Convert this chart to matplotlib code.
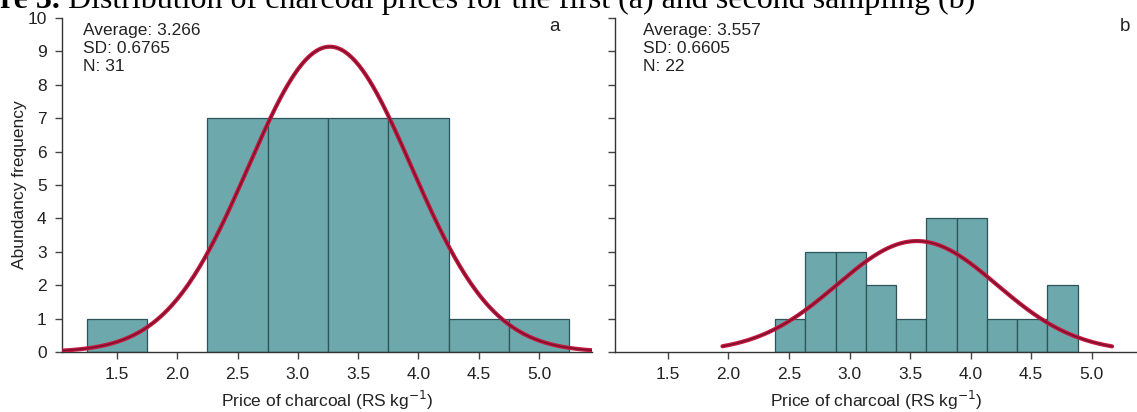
import numpy as np
import matplotlib
matplotlib.use('Agg')
import matplotlib.pyplot as plt

# ---- data ----
# panel a: first sampling
edges_a = [1.25, 1.75, 2.25, 2.75, 3.25, 3.75, 4.25, 4.75, 5.25]
counts_a = [1, 0, 7, 7, 7, 7, 1, 1]
mean_a, sd_a, n_a = 3.266, 0.6765, 31
curve_a = (1.05, 5.45)

# panel b: second sampling
edges_b = [2.385, 2.635, 2.885, 3.135, 3.385, 3.635, 3.885, 4.135, 4.385, 4.635, 4.885]
counts_b = [1, 3, 3, 2, 1, 4, 4, 1, 1, 2]
mean_b, sd_b, n_b = 3.557, 0.6605, 22
curve_b = (1.95, 5.17)

xticks = [1.5, 2.0, 2.5, 3.0, 3.5, 4.0, 4.5, 5.0]
yticks = list(range(0, 11))

plt.rcParams['font.family'] = ['Liberation Sans', 'DejaVu Sans']

BAR = '#6ca8ac'
EDGE = '#2c5459'
RED = '#c41a42'
DARKRED = '#7a0f28'
FS = 12.5

W, H = 1137, 412
fig = plt.figure(figsize=(W / 100, H / 100), dpi=100)


def px(x0, y0, x1, y1):
    # pixel box (top-left origin) -> figure fraction rect
    return [x0 / W, 1 - y1 / H, (x1 - x0) / W, (y1 - y0) / H]


def panel(ax, edges, counts, mean, sd, n, crange, xlim, letter, ylabels):
    edges = np.asarray(edges)
    counts = np.asarray(counts)
    widths = np.diff(edges)
    keep = counts > 0
    ax.bar(edges[:-1][keep], counts[keep], width=widths[keep], align='edge',
           color=BAR, edgecolor=EDGE, linewidth=0.9, zorder=2)

    # fitted normal, scaled to counts per bin
    bw = widths.mean()
    xs = np.linspace(crange[0], crange[1], 300)
    ys = n * bw / (sd * np.sqrt(2 * np.pi)) * np.exp(-0.5 * ((xs - mean) / sd) ** 2)
    ax.plot(xs, ys, color=RED, lw=3.0, solid_capstyle='round', zorder=3)
    ax.plot(xs, ys, color=DARKRED, lw=1.0, zorder=4)

    ax.set_xlim(*xlim)
    ax.set_ylim(0, 10)
    ax.set_xticks(xticks)
    ax.set_xticklabels(['%.1f' % v for v in xticks])
    ax.set_yticks(yticks)
    if not ylabels:
        ax.set_yticklabels([])
    for s in ('top', 'right'):
        ax.spines[s].set_visible(False)
    for s in ('left', 'bottom'):
        ax.spines[s].set_color('#333333')
        ax.spines[s].set_linewidth(1.0)
    ax.tick_params(direction='out', length=5, width=1, color='#444444',
                   labelsize=FS, labelcolor='#222222', pad=6)
    ax.set_xlabel('Price of charcoal (RS kg$^{-1}$)', fontsize=FS,
                  color='#222222', labelpad=5)

    ax.text(0.04 if ylabels else 0.054, 0.985,
            'Average: %.3f\nSD: %.4f\nN: %d' % (mean, sd, n),
            transform=ax.transAxes, ha='left', va='top', fontsize=FS,
            color='#222222', linespacing=1.25)
    ax.text(0.93 if ylabels else 0.977, 0.975, letter, transform=ax.transAxes,
            ha='center', va='center', fontsize=FS + 1, color='#222222')


ax1 = fig.add_axes(px(62, 18, 592, 352))
ax2 = fig.add_axes(px(615, 18, 1137, 352))

panel(ax1, edges_a, counts_a, mean_a, sd_a, n_a, curve_a, (1.044, 5.44), 'a', True)
panel(ax2, edges_b, counts_b, mean_b, sd_b, n_b, curve_b, (1.062, 5.376), 'b', False)
ax1.set_ylabel('Abundancy frequency', fontsize=FS, color='#222222', labelpad=0)

# caption line, cut off at the top edge as in the source
cap_y = 1 - 8 / H
t1 = fig.text(0.0, cap_y, 're 3.', fontsize=23, family=['Liberation Serif'],
              fontweight='bold', ha='left', va='baseline', zorder=0)
r = fig.canvas.get_renderer()
bb = t1.get_window_extent(r)
fig.text(bb.x1 / W, cap_y, ' Distribution of charcoal prices for the first (a) and second sampling (b)',
         fontsize=23, family=['Liberation Serif'], ha='left', va='baseline', zorder=0)

fig.savefig('out.png', dpi=100)
